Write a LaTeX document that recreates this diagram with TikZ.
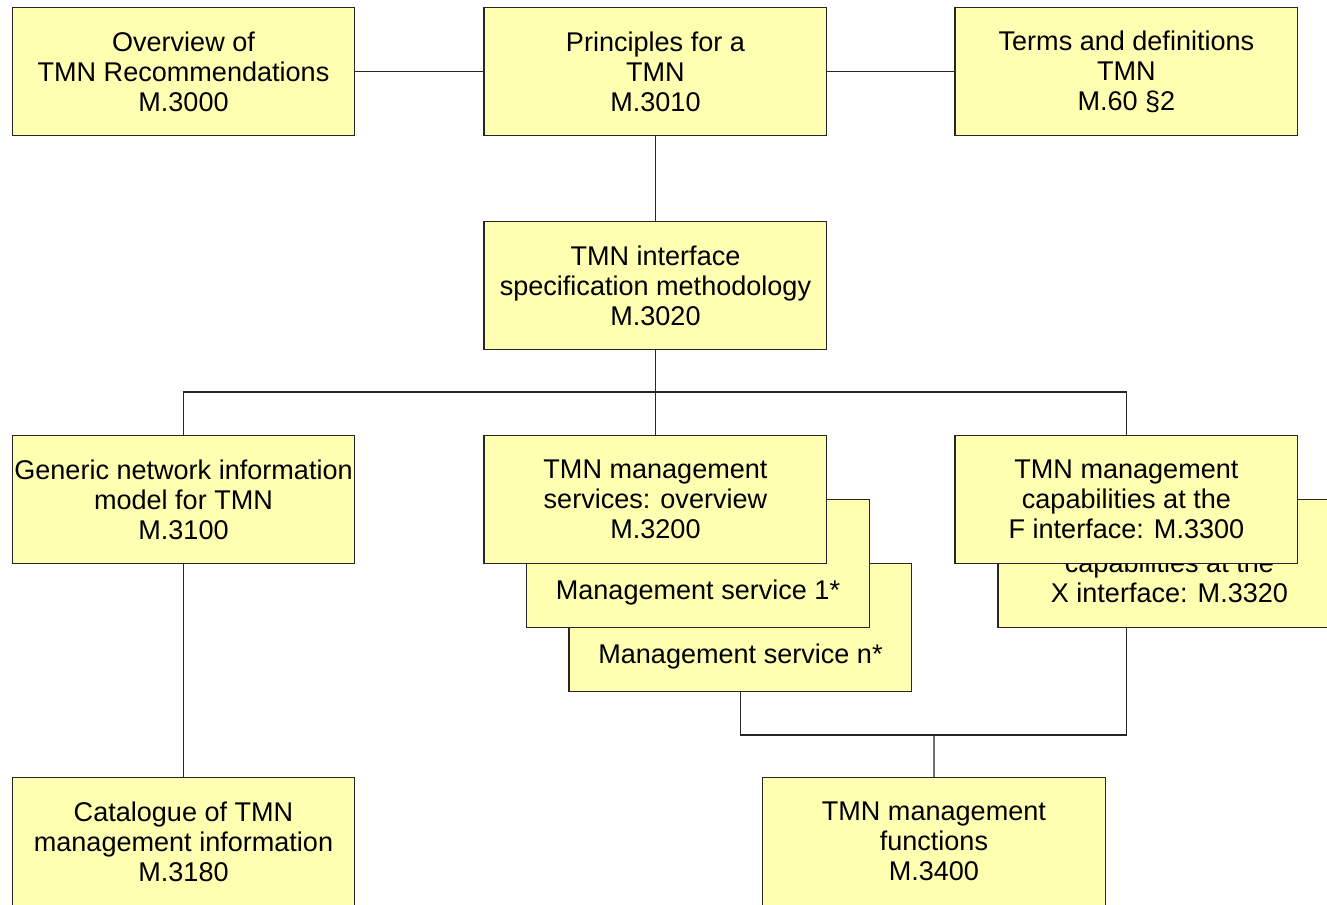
\documentclass[tikz,border=0pt]{standalone}
\usepackage{fontspec}
\setmainfont{Liberation Sans}
\usetikzlibrary{positioning}
\usetikzlibrary{backgrounds}
\definecolor{recfill}{RGB}{255,255,178}
\tikzset{
	rec/.style={draw=black!85, rectangle, line width=0.6pt, inner sep=1pt, minimum width=6.86cm, minimum height=2.56cm, fill=recfill, align=center, font=\fontsize{15.4}{17}\selectfont},
	% text of the stacked boxes
	note/.style={inner sep=0pt, font=\fontsize{15.4}{17}\selectfont},
}

\begin{document}
\begin{tikzpicture}[x=0.02cm, y=-0.02cm]
	\useasboundingbox (0,0) rectangle (1327,904);
	\clip (0,0) rectangle (1327,904);
	
	\node (ov) [rec] at (183.5,71.5) {Overview of\\TMN Recommendations\\M.3000};
	\node (pr) [rec, right=2.56cm of ov] {Principles for a\\TMN\\M.3010};
	\node (td) [rec, right=2.54cm of pr] {Terms and definitions\\TMN\\M.60 §2};
	
	\node (iface) [rec, below=1.70cm of pr] {TMN interface\\specification methodology\\M.3020};
	
	\node (srv) [rec, below=1.70cm of iface] {TMN management\\services: overview\\M.3200};
	\node (gen) [rec, left=2.56cm of srv] {Generic network information\\model for TMN\\M.3100};
	\node (fcap) [rec, right=2.54cm of srv] {TMN management\\capabilities at the\\F interface: M.3300};
	
	\node (cat) [rec, below=4.26cm of gen] {Catalogue of TMN\\management information\\M.3180};
	\node (fun) [rec, below=4.26cm of srv, xshift=5.57cm] {TMN management\\functions\\M.3400};
	
	\begin{scope}[on background layer]
		\node (msn) [rec] at ([shift={(85,128)}]srv.center) {};
		\node (msntxt) [note] at ([yshift=-0.58cm]msn.center) {Management service n*};
		\node (ms1) [rec] at ([shift={(42.5,64)}]srv.center) {};
		\node (ms1txt) [note] at ([yshift=-0.58cm]ms1.center) {Management service 1*};
		\node (xcap) [rec] at ([shift={(43,64)}]fcap.center) {TMN management\\capabilities at the\\X interface: M.3320};
	\end{scope}
	
	\coordinate (bus) at (655.5,392);
	\coordinate (join) at (934,735);
	
	\begin{scope}[line width=0.6pt, black!85]
		\draw (ov) -- (pr);
		\draw (pr) -- (td);
		\draw (pr) -- (iface);
		\draw (iface) -- (srv);
		\draw (gen.north) |- (bus) -| (fcap.north);
		\draw (gen) -- (cat);
		\draw (msn.south) |- (join) -| (fcap |- xcap.south);
		\draw (join) -- (fun);
	\end{scope}
\end{tikzpicture}
\end{document}
